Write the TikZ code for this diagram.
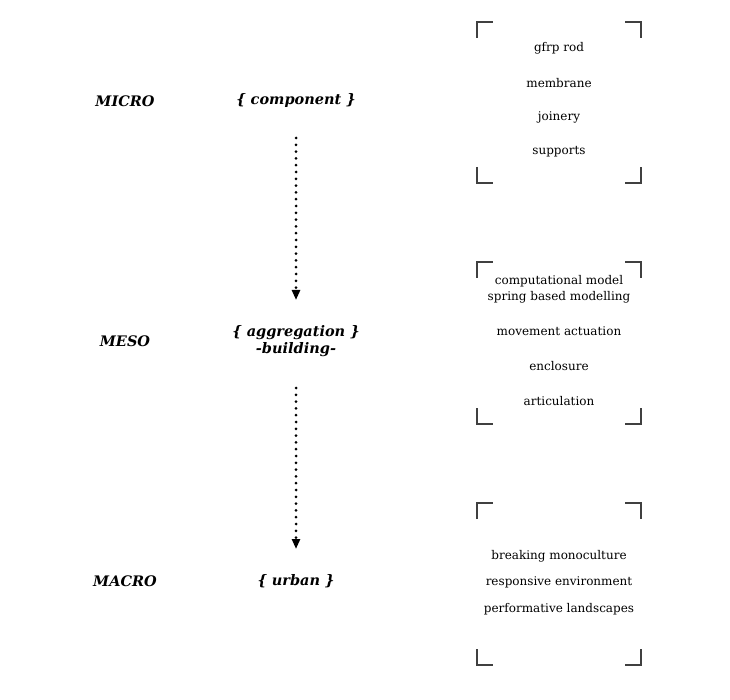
\documentclass[tikz,border=0pt]{standalone}
\usepackage{fontspec}
\setmainfont{DejaVu Serif}
\usetikzlibrary{arrows.meta}

\begin{document}
\begin{tikzpicture}[x=1pt, y=-1pt,
  scalelabel/.style={font=\fontsize{14.5}{17}\selectfont\bfseries\itshape},
  item/.style={font=\fontsize{12}{14}\selectfont, inner sep=0pt},
  corner/.style={line width=1.3pt, color=black!75},
  flow/.style={line width=3pt, line cap=round, dash pattern=on 0pt off 6.8pt,
    -{Triangle[length=10pt,width=8pt]}}]
  \useasboundingbox (0,0) rectangle (730,700);
  % scale levels
  \node[scalelabel] (micro) at (125,101) {MICRO};
  \node[scalelabel] (meso)  at (125,341) {MESO};
  \node[scalelabel] (macro) at (125,581) {MACRO};
  \node[scalelabel] (comp)  at (296,101) {\{ component \}};
  \node[scalelabel, align=center, inner sep=0pt] (aggr) at (296,341) {\{ aggregation \}\\[0pt]-building-};
  \node[scalelabel] (urban) at (296,581) {\{ urban \}};
  % dotted arrows
  \coordinate (c1) at (296,138); \coordinate (c2) at (296,300);
  \coordinate (c3) at (296,388); \coordinate (c4) at (296,549);
  \draw[flow] (c1) -- (c2);
  \draw[flow] (c3) -- (c4);
  % bracket corners
  \foreach \t/\b in {22/183, 262/424, 503/665}{
    \draw[corner] (477,\t+16) -- (477,\t) -- (493,\t);
    \draw[corner] (625,\t) -- (641,\t) -- (641,\t+16);
    \draw[corner] (477,\b-16) -- (477,\b) -- (493,\b);
    \draw[corner] (625,\b) -- (641,\b) -- (641,\b-16);
  }
  % contents
  \node[item] (rod)   at (559,48)  {gfrp rod};
  \node[item] (memb)  at (559,83)  {membrane};
  \node[item] (join)  at (559,117) {joinery};
  \node[item] (supp)  at (559,152) {supports};
  \node[item] (model) at (559,281) {computational model};
  \node[item] (spring) at (559,297) {spring based modelling};
  \node[item] (move)  at (559,331) {movement actuation};
  \node[item] (encl)  at (559,366) {enclosure};
  \node[item] (artic) at (559,401) {articulation};
  \node[item] (break) at (559,556) {breaking monoculture};
  \node[item] (resp)  at (559,582) {responsive environment};
  \node[item] (perf)  at (559,609) {performative landscapes};
\end{tikzpicture}
\end{document}
